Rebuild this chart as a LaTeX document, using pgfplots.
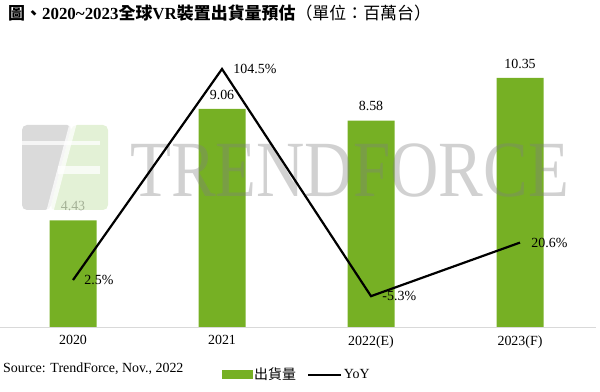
\documentclass[border=0pt]{standalone}
\usepackage{pgfplots}
\pgfplotsset{compat=1.18}
\usepackage{fontspec}
\setmainfont{Liberation Serif}
\newfontfamily\cjk{Noto Sans CJK TC}
\definecolor{barg}{RGB}{118,176,36}
\definecolor{lgreen}{RGB}{218,236,200}
\definecolor{lgray}{RGB}{205,205,205}
\begin{document}
\begin{tikzpicture}[x=1bp,y=1bp]
\path[use as bounding box] (0bp,0bp) rectangle (600bp,392bp);
% title
\node[anchor=west, inner sep=0pt] at (8bp,379bp) {\fontsize{17}{19}\selectfont\bfseries{\cjk 圖、}2020\textasciitilde 2023{\cjk 全球}VR{\cjk 裝置出貨量預估}\mdseries{\cjk （單位：百萬台）}};
% source
\node[anchor=west, inner sep=0pt] at (3bp,23.5bp) {\fontsize{14}{16}\selectfont Source: TrendForce, Nov., 2022};
\begin{axis}[at={(0bp,65bp)}, anchor=south west, scale only axis, width=596bp, height=270bp,
  xmin=-0.49, xmax=3.51, ymin=0, ymax=11.22,
  axis y line=none, axis x line*=bottom,
  x axis line style={draw=black!15, line width=1bp, -},
  xtick={0,1,2,3}, xticklabels={2020,2021,2022(E),2023(F)},
  major tick length=0pt,
  xticklabel style={font=\fontsize{14}{16}\selectfont, yshift=-5bp},
  ybar, bar width=47bp,
  nodes near coords,
  every node near coord/.append style={font=\fontsize{14}{16}\selectfont, anchor=south, yshift=6bp},
  /pgf/number format/.cd, fixed, precision=2, fixed zerofill, assume math mode=true]
  \addplot[fill=barg, draw=none] coordinates {(0,4.43) (1,9.06) (2,8.58) (3,10.35)};
\end{axis}
% watermark logo
\begin{scope}[opacity=0.75]
  \fill[lgray, rounded corners=5bp] (22bp,267bp) -- (72bp,267bp) -- (50bp,182bp) -- (22bp,182bp) -- cycle;
  \fill[lgreen, rounded corners=5bp] (72bp,267bp) -- (108bp,267bp) -- (108bp,182bp) -- (50bp,182bp) -- cycle;
  \draw[white, line width=7bp] (73bp,268bp) -- (50bp,181bp);
  \draw[white, line width=4bp] (21bp,249bp) -- (100bp,249bp);
  \draw[white, line width=8bp] (58bp,222bp) -- (100bp,222bp);
\end{scope}
\node[anchor=base west, inner sep=0pt, text=black!50, opacity=0.36, xscale=0.84] at (130bp,195bp) {\fontsize{80}{80}\selectfont TRENDFORCE};
\begin{axis}[at={(0bp,65bp)}, anchor=south west, scale only axis, width=596bp, height=270bp,
  xmin=-0.49, xmax=3.51, ymin=-20.2, ymax=110.3, hide axis, clip=false,
  legend style={draw=none, fill=none, at={(0.3725,-0.176)}, anchor=west,
    legend columns=2, inner sep=0pt, font=\fontsize{14}{16}\selectfont,
    /tikz/every even column/.append style={column sep=10bp},
    nodes={inner sep=1.5bp}},
  legend cell align=left]
  \addlegendimage{legend image code/.code={\fill[barg] (0bp,-4bp) rectangle (30bp,4bp);}}
  \addlegendentry{\cjk 出貨量}
  \addplot[black, line width=2.2bp, mark=none,
    legend image code/.code={\draw[black, line width=2bp] (0bp,0bp) -- (33bp,0bp);},
    nodes near coords, point meta=explicit symbolic,
    every node near coord/.append style={anchor=west, xshift=7bp, font=\fontsize{14}{16}\selectfont}]
    coordinates {(0,2.5)[2.5\%] (1,104.5)[104.5\%] (2,-5.3)[-5.3\%] (3,20.6)[20.6\%]};
  \addlegendentry{YoY}
\end{axis}
\end{tikzpicture}
\end{document}
